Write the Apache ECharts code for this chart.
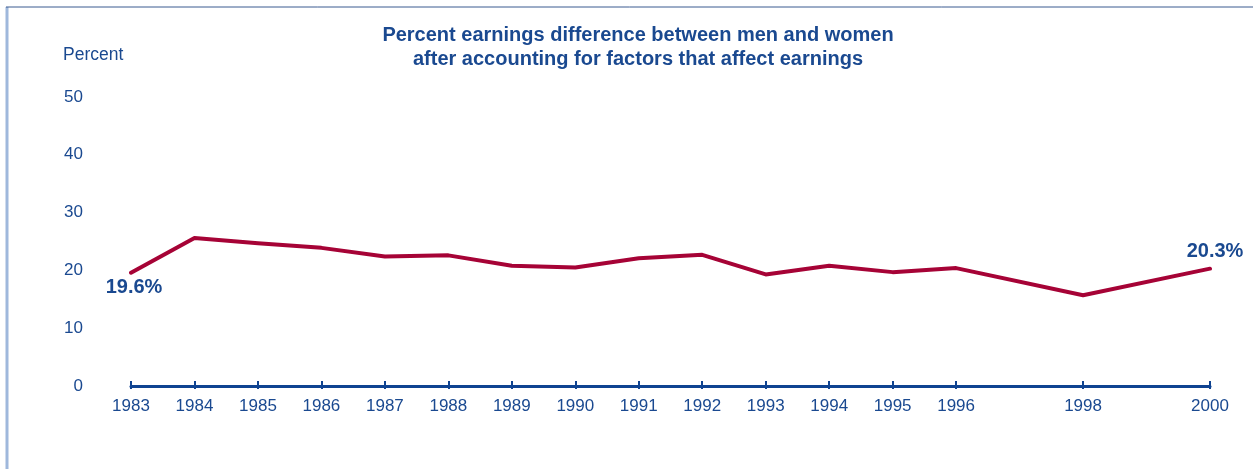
<!DOCTYPE html>
<html>
<head>
<meta charset="utf-8">
<script src="https://cdn.jsdelivr.net/npm/echarts@6/dist/echarts.min.js"></script>
<style>
html,body{margin:0;padding:0;background:#fff;}
#c{width:1253px;height:469px;}
</style>
</head>
<body>
<div id="c"></div>
<script>
const years = [1983,1984,1985,1986,1987,1988,1989,1990,1991,1992,1993,1994,1995,1996,1998,2000];
const gapPercent = [19.6,25.6,24.7,23.9,22.4,22.6,20.8,20.5,22.1,22.7,19.3,20.8,19.7,20.4,15.7,20.3];
const yTicks = [0,10,20,30,40,50];
const titleLines = ['Percent earnings difference between men and women','after accounting for factors that affect earnings'];

const blue = '#1a4990';
const axisBlue = '#0f4391';
const red = '#a60336';
const font = '"Liberation Sans", Arial, sans-serif';

const lastIdx = years.length - 1;
const seriesData = years.map((y, i) => {
  const item = { value: [y, gapPercent[i]] };
  if (i === 0) {
    item.label = { show: true, position: 'bottom', distance: 4, offset: [3, 0] };
  } else if (i === lastIdx) {
    item.label = { show: true, position: 'top', distance: 7, offset: [5, 0] };
  }
  return item;
});

const chart = echarts.init(document.getElementById('c'), null, { renderer: 'canvas' });
chart.setOption({
  animation: false,
  backgroundColor: '#fff',
  title: {
    text: titleLines.join('\n'),
    left: 633, top: 18, textAlign: 'center',
    textStyle: { color: blue, fontFamily: font, fontWeight: 'bold', fontSize: 20, lineHeight: 24 }
  },
  graphic: [
    { type: 'line', shape: { x1: 7, y1: 7, x2: 7, y2: 469 }, style: { stroke: '#9fb8dc', lineWidth: 3 } },
    { type: 'line', shape: { x1: 6, y1: 7, x2: 1253, y2: 7 }, style: { stroke: '#3a5a90', lineWidth: 1 } },
    { type: 'text', left: 63, top: 46, style: { text: 'Percent', fill: blue, font: '17.5px ' + font } }
  ],
  grid: { left: 131, right: 43, top: 97, bottom: 83, containLabel: false },
  xAxis: [
    {
      type: 'value', min: 1983, max: 2000,
      axisLine: { show: true, lineStyle: { color: axisBlue, width: 3 } },
      axisTick: { show: true, inside: true, length: 5, customValues: years, lineStyle: { color: axisBlue, width: 2 } },
      axisLabel: { show: true, customValues: years, color: blue, fontFamily: font, fontSize: 17, margin: 12,
        formatter: v => String(v) },
      splitLine: { show: false }
    },
    {
      type: 'value', min: 1983, max: 2000, position: 'bottom',
      axisLine: { show: false },
      axisTick: { show: true, length: 3, customValues: years, lineStyle: { color: axisBlue, width: 2 } },
      axisLabel: { show: false },
      splitLine: { show: false }
    }
  ],
  yAxis: {
    type: 'value', min: 0, max: 50, interval: 10,
    axisLine: { show: false }, axisTick: { show: false }, splitLine: { show: false },
    axisLabel: { color: blue, fontFamily: font, fontSize: 17, margin: 48, customValues: yTicks }
  },
  series: [{
    type: 'line',
    xAxisIndex: 0,
    data: seriesData,
    showSymbol: true,
    symbol: 'circle',
    symbolSize: 1,
    itemStyle: { color: red },
    lineStyle: { color: red, width: 4, join: 'round', cap: 'round' },
    label: {
      show: false,
      color: blue, fontFamily: font, fontWeight: 'bold', fontSize: 20,
      formatter: p => p.value[1].toFixed(1) + '%'
    }
  }]
});
</script>
</body>
</html>
